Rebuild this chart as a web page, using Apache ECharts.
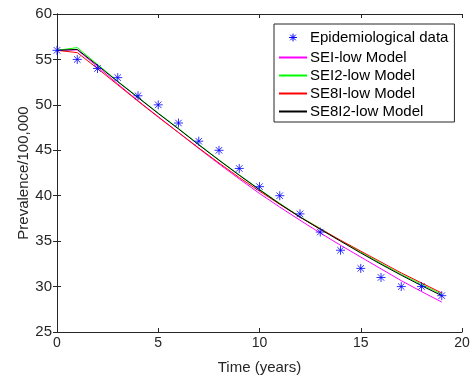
<!DOCTYPE html>
<html>
<head>
<meta charset="utf-8">
<script src="https://cdn.jsdelivr.net/npm/echarts@6/dist/echarts.min.js"></script>
<style>
html,body{margin:0;padding:0;background:#fff;}
#chart{width:474px;height:380px;}
</style>
</head>
<body>
<div id="chart"></div>
<script>
const years = [0,1,2,3,4,5,6,7,8,9,10,11,12,13,14,15,16,17,18,19];
const epiData = [56,55,54,53,51,50,48,46,45,43,41,40,38,36,34,32,31,30,30,29];
const seiLow   = [56.0,56.05,54.2,52.3,50.45,48.7,46.95,45.2,43.5,41.85,40.25,38.75,37.3,35.9,34.55,33.25,31.95,30.65,29.45,28.3];
const sei2Low  = [56.0,56.3,54.45,52.6,50.85,49.1,47.4,45.65,43.95,42.3,40.7,39.15,37.7,36.4,35.05,33.8,32.55,31.35,30.25,29.15];
const se8iLow  = [56.0,55.75,54.0,52.2,50.4,48.65,46.95,45.25,43.6,42.0,40.5,39.05,37.65,36.35,35.1,33.9,32.7,31.5,30.4,29.3];
const se8i2Low = [56.0,56.1,54.35,52.55,50.8,49.05,47.35,45.6,43.9,42.25,40.65,39.1,37.65,36.3,35.0,33.7,32.45,31.25,30.1,29.0];
const xTicks = {min:0, max:20, interval:5};
const yTicks = {min:25, max:60, interval:5};
const names = ['Epidemiological data','SEI-low Model','SEI2-low Model','SE8I-low Model','SE8I2-low Model'];
const colors = ['#0000FF','#FF00FF','#00FF00','#FF0000','#000000'];

const pair = arr => years.map((t,i)=>[t,arr[i]]);
const axisCol = '#262626';
const font = 'Liberation Sans, Arial, Helvetica, sans-serif';
const star = 'path://M0,-5L0,5M-5,0L5,0M-3.6,-3.6L3.6,3.6M-3.6,3.6L3.6,-3.6';
const starIcon = 'path://M-9,-9L-9,-9M9,9L9,9M0,-5L0,5M-5,0L5,0M-3.6,-3.6L3.6,3.6M-3.6,3.6L3.6,-3.6';

const baseAxis = {
  axisLine:{show:true,lineStyle:{color:axisCol,width:1}},
  axisTick:{show:true,inside:true,length:4,lineStyle:{color:axisCol,width:1}},
  splitLine:{show:false},
  nameMoveOverlap:false
};

const chart = echarts.init(document.getElementById('chart'),null,{renderer:'canvas'});
chart.setOption({
  animation:false,
  backgroundColor:'#fff',
  grid:{left:57,right:12,top:14,bottom:47,show:false},
  legend:{
    orient:'vertical', left:274, top:24, width:179,
    padding:[4,6,3,4], itemGap:3, itemWidth:28, itemHeight:14,
    borderColor:axisCol, borderWidth:1, backgroundColor:'#fff',
    itemStyle:{opacity:0},
    textStyle:{fontFamily:font,fontSize:15,color:'#000',padding:[0,0,0,-2]},
    data:[
      {name:names[0], icon:starIcon, itemStyle:{opacity:1,color:'none',borderColor:colors[0],borderWidth:1}},
      names[1], names[2], names[3], names[4]
    ]
  },
  xAxis:[
    Object.assign({}, baseAxis, {type:'value', position:'bottom', min:xTicks.min, max:xTicks.max, interval:xTicks.interval,
      name:'Time (years)', nameLocation:'middle', nameGap:28,
      nameTextStyle:{fontFamily:font,fontSize:15,color:axisCol},
      axisLabel:{fontFamily:font,fontSize:14,color:axisCol,margin:4}}),
    Object.assign({}, baseAxis, {type:'value', position:'top', min:xTicks.min, max:xTicks.max, interval:xTicks.interval,
      axisLabel:{show:false}})
  ],
  yAxis:[
    Object.assign({}, baseAxis, {type:'value', position:'left', min:yTicks.min, max:yTicks.max, interval:yTicks.interval,
      name:'Prevalence/100,000', nameLocation:'middle', nameGap:26,
      nameTextStyle:{fontFamily:font,fontSize:15,color:axisCol},
      axisLabel:{fontFamily:font,fontSize:15,color:axisCol,margin:5}}),
    Object.assign({}, baseAxis, {type:'value', position:'right', min:yTicks.min, max:yTicks.max, interval:yTicks.interval,
      axisLabel:{show:false}})
  ],
  series:[
    {name:names[0], type:'scatter', data:pair(epiData), symbol:star, symbolSize:9, z:5,
      itemStyle:{color:'none',borderColor:colors[0],borderWidth:1}},
    {name:names[1], type:'line', data:pair(seiLow), showSymbol:false, color:colors[1], lineStyle:{width:1,color:colors[1]}},
    {name:names[2], type:'line', data:pair(sei2Low), showSymbol:false, color:colors[2], lineStyle:{width:1,color:colors[2]}},
    {name:names[3], type:'line', data:pair(se8iLow), showSymbol:false, color:colors[3], lineStyle:{width:1,color:colors[3]}},
    {name:names[4], type:'line', data:pair(se8i2Low), showSymbol:false, color:colors[4], lineStyle:{width:1,color:colors[4]}}
  ]
});
</script>
</body>
</html>
